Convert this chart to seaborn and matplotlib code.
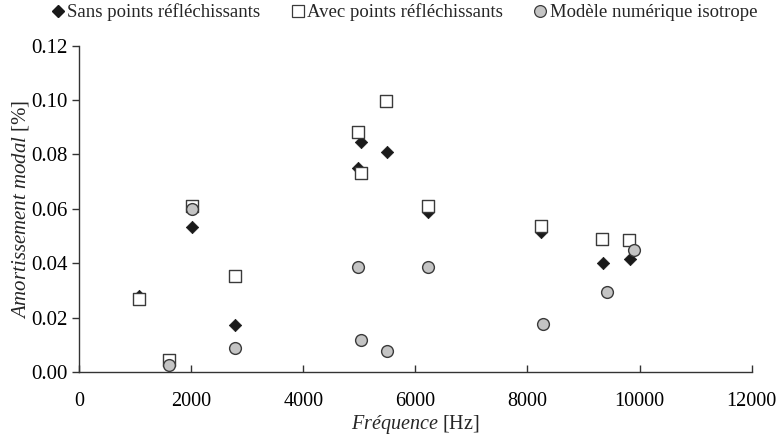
import matplotlib
matplotlib.use("Agg")
import matplotlib.pyplot as plt
import seaborn as sns
import pandas as pd
from matplotlib.lines import Line2D
from matplotlib.ticker import FormatStrFormatter, MultipleLocator

sns.set_theme(style="white")
plt.rcParams['font.family'] = ['Liberation Serif', 'DejaVu Serif']
plt.rcParams['mathtext.fontset'] = 'custom'
plt.rcParams['mathtext.rm'] = 'Liberation Serif'
plt.rcParams['mathtext.it'] = 'Liberation Serif:italic'

# Data
sans_freq = [1070, 2014, 2780, 4973, 5027, 5490, 6221, 8235, 9340, 9822]
sans_amort = [0.028, 0.0535, 0.0175, 0.075, 0.0845, 0.081, 0.059, 0.0515, 0.0400, 0.0415]

avec_freq = [1070, 1604, 2014, 2780, 4973, 5027, 5472, 6221, 8235, 9323, 9804]
avec_amort = [0.027, 0.0045, 0.0612, 0.0355, 0.0882, 0.0733, 0.0998, 0.0612, 0.0538, 0.0490, 0.0487]

iso_freq = [1604, 2014, 2780, 4973, 5027, 5490, 6221, 8271, 9412, 9893]
iso_amort = [0.0027, 0.0599, 0.0087, 0.0388, 0.0118, 0.0076, 0.0388, 0.0178, 0.0296, 0.0448]

labels = ["Sans points réfléchissants", "Avec points réfléchissants", "Modèle numérique isotrope"]

fig = plt.figure(figsize=(7.84, 4.43), dpi=100)
ax = fig.add_axes([0.1008, 0.160, 0.858, 0.737])

df1 = pd.DataFrame({"f": sans_freq, "a": sans_amort})
df2 = pd.DataFrame({"f": avec_freq, "a": avec_amort})
df3 = pd.DataFrame({"f": iso_freq, "a": iso_amort})

sns.scatterplot(data=df1, x="f", y="a", ax=ax, marker="D", s=40, color="#1a1a1a",
                edgecolor="#1a1a1a", linewidth=0.5, zorder=3)
sns.scatterplot(data=df2, x="f", y="a", ax=ax, marker="s", s=68, color="white",
                edgecolor="#3a3a3a", linewidth=1.0, zorder=4)
sns.scatterplot(data=df3, x="f", y="a", ax=ax, marker="o", s=72, color="#c4c4c4",
                edgecolor="#3a3a3a", linewidth=1.0, zorder=5)

ax.set_xlim(0, 12000)
ax.set_ylim(0, 0.12)
ax.xaxis.set_major_locator(MultipleLocator(2000))
ax.yaxis.set_major_locator(MultipleLocator(0.02))
ax.yaxis.set_major_formatter(FormatStrFormatter('%.2f'))

for s in ["top", "right"]:
    ax.spines[s].set_visible(False)
for s in ["left", "bottom"]:
    ax.spines[s].set_color("#333333")
    ax.spines[s].set_linewidth(1.0)

ax.tick_params(axis='x', direction='in', length=5, width=1, colors="#333333",
               labelcolor="black", labelsize=14.5, pad=14, bottom=True)
ax.tick_params(axis='y', direction='out', length=5, width=1, colors="#333333",
               labelcolor="black", labelsize=15, pad=3, left=True)

ax.set_xlabel(r"$\mathit{Fréquence}$ [Hz]", fontsize=14.5, labelpad=2)
ax.set_ylabel(r"$\mathit{Amortissement\ modal}$ [%]", fontsize=15)
ax.yaxis.set_label_coords(-0.072, 0.5)

handles = [
    Line2D([], [], marker="D", linestyle="none", markersize=6.5, markerfacecolor="#1a1a1a",
           markeredgecolor="#1a1a1a"),
    Line2D([], [], marker="s", linestyle="none", markersize=8.5, markerfacecolor="white",
           markeredgecolor="#3a3a3a", markeredgewidth=0.9),
    Line2D([], [], marker="o", linestyle="none", markersize=8.5, markerfacecolor="#c4c4c4",
           markeredgecolor="#3a3a3a", markeredgewidth=0.9),
]
fig.legend(handles, labels, loc="center", bbox_to_anchor=(0.515, 0.972), ncol=3,
           frameon=False, fontsize=13.5, handlelength=0.8, handletextpad=0.1,
           columnspacing=1.6, borderpad=0)

fig.savefig("out.png", dpi=100)
